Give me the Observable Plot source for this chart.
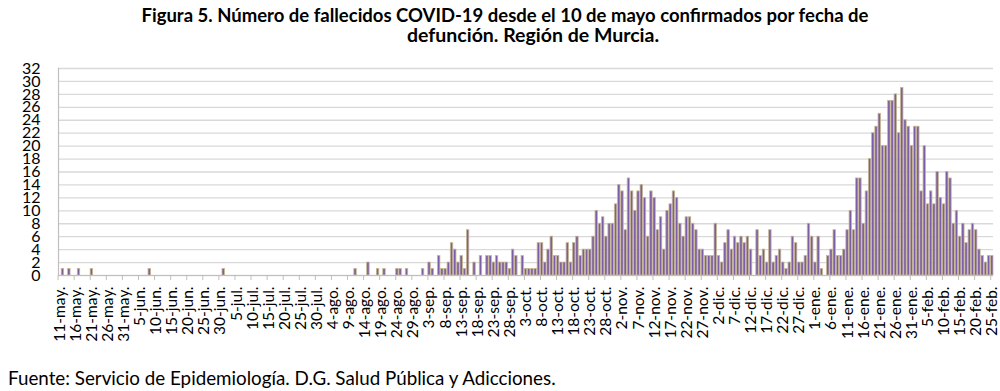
<!DOCTYPE html>
<html>
<head>
<meta charset="utf-8">
<script src="https://cdn.jsdelivr.net/npm/d3@7"></script>
<script src="https://cdn.jsdelivr.net/npm/@observablehq/plot@0.6"></script>
<style>
  html, body { margin: 0; padding: 0; background: #fff; width: 1000px; height: 391px; overflow: hidden; }
  #title1, #title2 { position: absolute; width: 1000px; text-align: center; font-family: Lato, sans-serif; font-weight: bold; font-size: 18.5px; color: #000; white-space: nowrap; line-height: 1; }
  #title1 { top: 6px; left: 5px; }
  #title2 { top: 25px; left: 33px; font-size: 19.5px; }
  #chart { position: absolute; left: 0; top: 50px; }
  #caption { position: absolute; left: 8px; top: 369px; font-family: Lato, sans-serif; font-size: 18.8px; line-height: 1; color: #000; white-space: nowrap; }
</style>
</head>
<body>
<div id="title1">Figura 5. Número de fallecidos COVID-19 desde el 10 de mayo confirmados por fecha de</div>
<div id="title2">defunción. Región de Murcia.</div>
<div id="chart"></div>
<div id="caption">Fuente: Servicio de Epidemiología. D.G. Salud Pública y Adicciones.</div>
<script>
// Daily categories: 11 May 2020 to 25 Feb 2021
const firstDay = "2020-05-11";
const lastDay = "2021-02-25";

// Deaths by date of death (one value per day)
const deaths = [
  // May 11 - May 31
  0,1,0,1,0,0,1,0,0,0,1,0,0,0,0,0,0,0,0,0,0,
  // Jun
  0,0,0,0,0,0,0,1,0,0,0,0,0,0,0,0,0,0,0,0,0,0,0,0,0,0,0,0,0,0,
  // Jul
  1,0,0,0,0,0,0,0,0,0,0,0,0,0,0,0,0,0,0,0,0,0,0,0,0,0,0,0,0,0,0,
  // Aug
  0,0,0,0,0,0,0,0,0,0,1,0,0,0,2,0,0,1,0,1,0,0,0,1,1,0,1,0,0,0,0,
  // Sep
  1,0,2,1,0,3,1,1,2,5,4,2,3,1,7,0,2,0,3,0,3,3,2,3,2,2,2,1,4,3,
  // Oct
  0,3,1,1,1,1,5,5,2,4,6,3,3,2,2,5,2,5,6,3,4,4,4,6,10,8,9,6,8,8,11,
  // Nov
  14,13,7,15,13,10,13,14,12,6,13,12,7,9,4,10,11,13,12,8,6,9,9,8,7,4,4,3,3,3,
  // Dec
  8,3,2,5,7,4,6,5,6,5,6,4,0,7,3,4,2,7,2,3,4,2,1,2,6,5,2,2,3,8,6,
  // Jan
  2,6,1,0,3,4,7,3,3,4,7,10,7,15,15,8,13,18,22,23,25,20,20,27,27,28,22,29,24,23,20,
  // Feb 1 - 25
  23,23,13,20,11,13,11,16,12,11,16,15,8,10,6,8,5,7,8,7,4,3,2,3,3
];

// Axis labels
const yTicks = [0,2,4,6,8,10,12,14,16,18,20,22,24,26,28,30,32];
const xTickLabels = [
  "11-may.","16-may.","21-may.","26-may.","31-may.",
  "5-jun.","10-jun.","15-jun.","20-jun.","25-jun.","30-jun.",
  "5-jul.","10-jul.","15-jul.","20-jul.","25-jul.","30-jul.",
  "4-ago.","9-ago.","14-ago.","19-ago.","24-ago.","29-ago.",
  "3-sep.","8-sep.","13-sep.","18-sep.","23-sep.","28-sep.",
  "3-oct.","8-oct.","13-oct.","18-oct.","23-oct.","28-oct.",
  "2-nov.","7-nov.","12-nov.","17-nov.","22-nov.","27-nov.",
  "2-dic.","7-dic.","12-dic.","17-dic.","22-dic.","27-dic.",
  "1-ene.","6-ene.","11-ene.","16-ene.","21-ene.","26-ene.","31-ene.",
  "5-feb.","10-feb.","15-feb.","20-feb.","25-feb."
];

const fmt = d3.utcFormat("%Y-%m-%d");
const days = d3.utcDay.range(new Date(firstDay), d3.utcDay.offset(new Date(lastDay), 1)).map(fmt);
const data = days.map((d, i) => ({day: d, value: deaths[i]}));
const tickDays = days.filter((d, i) => i % 5 === 0);
const labelOf = new Map(tickDays.map((d, i) => [d, xTickLabels[i]]));

const W = 1000, H = 300, mL = 58, mR = 7;
const step = (W - mL - mR) / days.length;

const chart = Plot.plot({
  width: W,
  height: H,
  marginTop: 18,
  marginLeft: mL,
  marginRight: mR,
  marginBottom: 75,
  style: {fontFamily: "Lato, sans-serif", background: "transparent", color: "#000", overflow: "visible"},
  x: {type: "band", domain: days, paddingInner: 0.25, paddingOuter: 0, axis: null},
  y: {domain: [0, 32], axis: null},
  marks: [
    Plot.gridY(yTicks, {stroke: "#d9d9d9", strokeOpacity: 1, strokeWidth: 1.3}),
    Plot.barY(data, {x: "day", y: "value", fill: "#7c5da8", stroke: "#c6b78d", strokeWidth: 0.8}),
    Plot.ruleY([0], {stroke: "#bfbfbf", strokeWidth: 1.2}),
    Plot.frame({anchor: "left", stroke: "#bfbfbf", strokeWidth: 1.2}),
    Plot.axisY(yTicks, {label: null, tickSize: 0, tickPadding: 18, fontSize: 16, fill: "#000"}),
    Plot.axisX(tickDays, {label: null, tickSize: 5, tickFormat: () => "", dx: -step / 2, stroke: "#bfbfbf"}),
    Plot.axisX(tickDays, {label: null, tickSize: 0, tickPadding: 11, tickRotate: -90, fontSize: 15.5, fill: "#000", tickFormat: d => labelOf.get(d)})
  ]
});
document.getElementById("chart").appendChild(chart);
</script>
</body>
</html>
